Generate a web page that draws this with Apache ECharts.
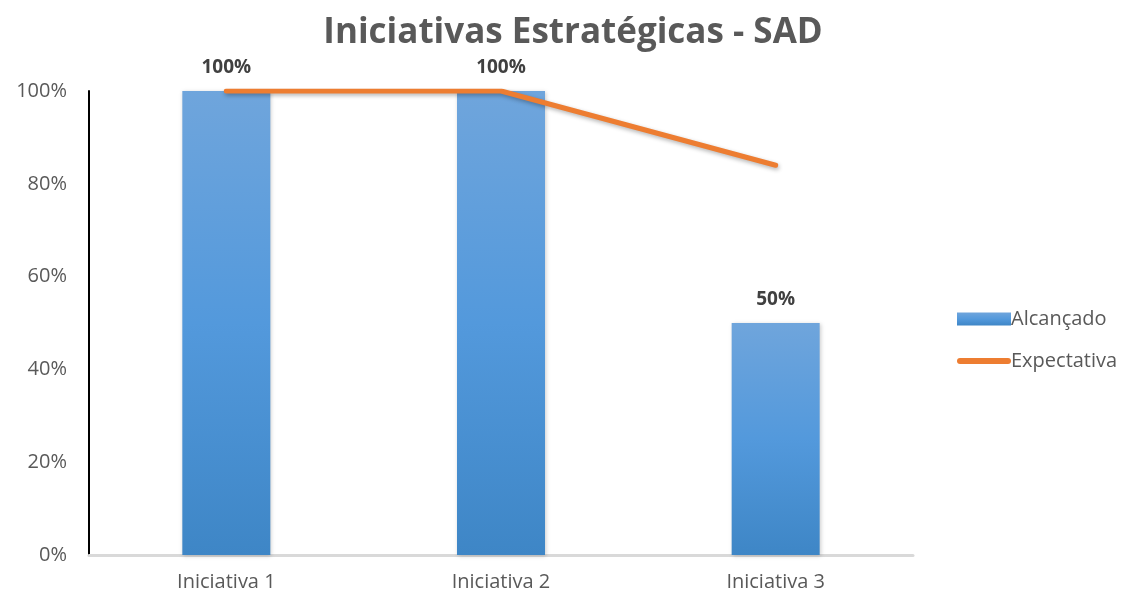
<!DOCTYPE html>
<html><head><meta charset="utf-8">
<script src="https://cdn.jsdelivr.net/npm/echarts@6/dist/echarts.min.js"></script>
<style>html,body{margin:0;padding:0;background:#fff}#c{width:1126px;height:597px}</style>
</head><body><div id="c"></div>
<script>
const categories = ['Iniciativa 1', 'Iniciativa 2', 'Iniciativa 3'];
const alcancado = [100, 100, 50];
const expectativa = [100, 100, 84];
const yTicks = [0, 20, 40, 60, 80, 100];

const chart = echarts.init(document.getElementById('c'));
chart.setOption({
  animation: false,
  title: {
    text: 'Iniciativas Estratégicas - SAD',
    left: 568, textAlign: 'center', top: 11,
    textStyle: { fontFamily: 'Open Sans', fontWeight: 'bold', fontSize: 35, color: '#595959' }
  },
  grid: { left: 89, right: 213, top: 91, bottom: 42 },
  legend: {
    orient: 'vertical', left: 952, top: 304, itemGap: 22,
    itemWidth: 54, itemHeight: 13, symbolKeepAspect: true,
    textStyle: { fontFamily: 'Open Sans', fontSize: 20, color: '#595959', padding: [0,0,0,-5] },
    data: [
      { name: 'Alcançado', icon: 'rect' },
      { name: 'Expectativa', icon: 'path://M3,0 H51 A3,3 0 0 1 51,6 H3 A3,3 0 0 1 3,0 Z',
        itemStyle: { color: '#ED7D31', borderWidth: 0 } }
    ]
  },
  xAxis: {
    type: 'category', data: categories,
    axisLine: { lineStyle: { color: '#d9d9d9', width: 3 } },
    axisTick: { show: false },
    axisLabel: { fontFamily: 'Open Sans', fontSize: 20, color: '#595959', margin: 17 }
  },
  yAxis: {
    type: 'value', min: 0, max: 100, interval: 20,
    axisLine: { show: true, lineStyle: { color: '#000', width: 2 } },
    splitLine: { show: false },
    axisLabel: { fontFamily: 'Open Sans', fontSize: 20, color: '#595959', margin: 22,
      formatter: v => yTicks.includes(v) ? v + '%' : '' }
  },
  series: [
    {
      name: 'Alcançado', type: 'bar', data: alcancado, barWidth: 88,
      itemStyle: {
        color: new echarts.graphic.LinearGradient(0, 0, 0, 1, [
          { offset: 0, color: '#6fa5dc' }, { offset: 0.5, color: '#5399dc' }, { offset: 1, color: '#3e86c6' }
        ]),
        shadowColor: 'rgba(0,0,0,0.2)', shadowBlur: 4, shadowOffsetX: 1, shadowOffsetY: 1
      },
      label: { show: true, position: 'top', distance: 14, formatter: p => p.value + '%',
        fontFamily: 'Open Sans', fontWeight: 'bold', fontSize: 19, color: '#404040' }
    },
    {
      name: 'Expectativa', type: 'line', data: expectativa, symbol: 'none',
      lineStyle: { color: '#ED7D31', width: 5, cap: 'round', join: 'round',
        shadowColor: 'rgba(0,0,0,0.3)', shadowBlur: 4, shadowOffsetX: 1, shadowOffsetY: 2 },
      itemStyle: { color: '#ED7D31' }, z: 3
    }
  ]
});
</script></body></html>
